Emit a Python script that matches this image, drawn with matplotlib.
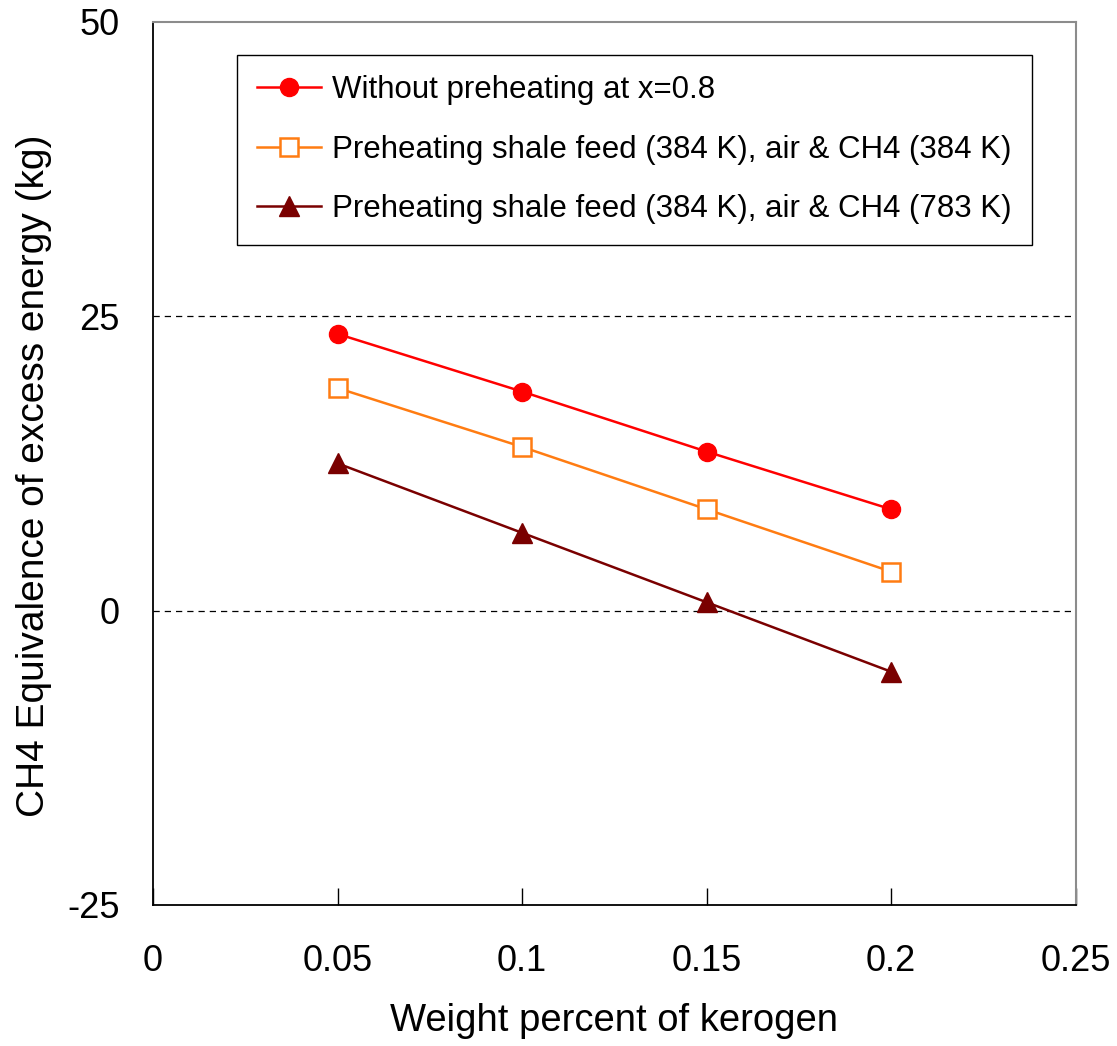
import matplotlib
matplotlib.use('Agg')
import matplotlib.pyplot as plt

plt.rcParams['font.family'] = ['Liberation Sans', 'DejaVu Sans']
plt.rcParams['axes.unicode_minus'] = False

# Kerogen content and excess energy for each case
kerogen = [0.05, 0.1, 0.15, 0.2]
no_preheat = [23.5, 18.6, 13.5, 8.6]
preheat_384 = [18.9, 13.9, 8.6, 3.3]
preheat_783 = [12.5, 6.6, 0.7, -5.2]

labels = ['Without preheating at x=0.8',
          'Preheating shale feed (384 K), air & CH4 (384 K)',
          'Preheating shale feed (384 K), air & CH4 (783 K)']
x_ticks = [0, 0.05, 0.1, 0.15, 0.2, 0.25]
x_tick_labels = ['0', '0.05', '0.1', '0.15', '0.2', '0.25']
y_ticks = [-25, 0, 25, 50]

fig = plt.figure(figsize=(11.17, 10.46), dpi=100)
ax = fig.add_axes([0.137, 0.135, 0.826, 0.844])

# dashed reference lines
for y in [0, 25]:
    ax.axhline(y, color='black', lw=0.9, ls=(0, (5, 4)), zorder=1)

ax.plot(kerogen, no_preheat, color='#ff0000', lw=1.8, marker='o', ms=13,
        mfc='#ff0000', mec='#ff0000', label=labels[0], zorder=3)
ax.plot(kerogen, preheat_384, color='#ff7c12', lw=1.8, marker='s', ms=12.5,
        mfc='white', mec='#ff7c12', mew=1.8, label=labels[1], zorder=3)
ax.plot(kerogen, preheat_783, color='#7a0000', lw=1.8, marker='^', ms=14,
        mfc='#7a0000', mec='#7a0000', label=labels[2], zorder=3)

ax.set_xlim(0, 0.25)
ax.set_ylim(-25, 50)
ax.set_xticks(x_ticks)
ax.set_xticklabels(x_tick_labels)
ax.set_yticks(y_ticks)
ax.tick_params(axis='x', direction='in', length=12, width=1, pad=28, labelsize=26)
ax.tick_params(axis='y', length=0, pad=24, labelsize=26)

for side in ['left', 'bottom']:
    ax.spines[side].set_color('black')
    ax.spines[side].set_linewidth(1.3)
for side in ['top', 'right']:
    ax.spines[side].set_color('#8c8c8c')
    ax.spines[side].set_linewidth(1.5)

ax.set_xlabel('Weight percent of kerogen', fontsize=27.5)
ax.xaxis.set_label_coords(0.5, -0.111)
ax.set_ylabel('CH4 Equivalence of excess energy (kg)', fontsize=28)
ax.yaxis.set_label_coords(-0.109, 0.486)

leg = ax.legend(loc='upper left', bbox_to_anchor=(0.091, 0.963), fontsize=22.5,
                frameon=True, fancybox=False, framealpha=1, edgecolor='black',
                handlelength=2.05, handletextpad=0.33, labelspacing=0.95,
                borderpad=0.65, borderaxespad=0)
leg.get_frame().set_linewidth(1.0)

fig.savefig('out.png', dpi=100, facecolor='white')
